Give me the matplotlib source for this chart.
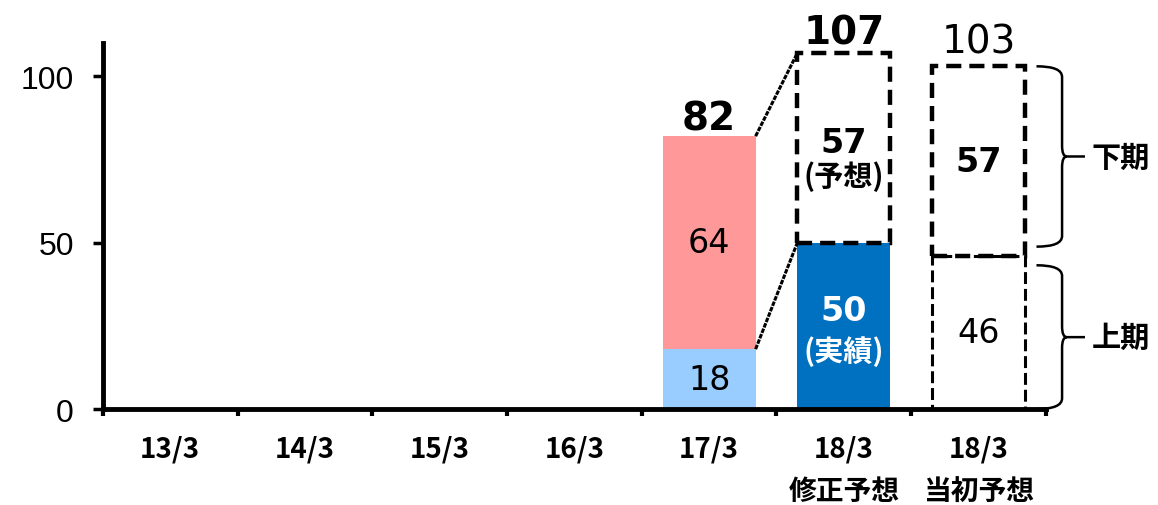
import numpy as np
import matplotlib
matplotlib.use('Agg')
import matplotlib.pyplot as plt
from matplotlib.path import Path
from matplotlib.patches import PathPatch

plt.rcParams['font.family'] = ['DejaVu Sans', 'Noto Sans CJK JP']

# data
categories = ['13/3', '14/3', '15/3', '16/3', '17/3', '18/3\n修正予想', '18/3\n当初予想']
first_half = [np.nan, np.nan, np.nan, np.nan, 18, 50, 46]    # 上期
second_half = [np.nan, np.nan, np.nan, np.nan, 64, 57, 57]   # 下期
yticks = [0, 50, 100]

first_half = np.array(first_half, dtype=float)
second_half = np.array(second_half, dtype=float)
total = first_half + second_half

x = np.arange(len(categories)) + 0.5
w = 0.69
jp = ['Noto Sans CJK JP', 'DejaVu Sans']

fig = plt.figure(figsize=(11.58, 5.06), dpi=100)
ax = fig.add_axes([0.0889, 0.1897, 0.8143, 0.7233])

# 17/3 実績
ax.bar(x[4], first_half[4], w, color='#99CCFF', zorder=2)
ax.bar(x[4], second_half[4], w, bottom=first_half[4], color='#FF9999', zorder=2)
# 18/3 修正予想
ax.bar(x[5], first_half[5], w, color='#0070C0', zorder=2)
ax.bar(x[5], second_half[5], w, bottom=first_half[5], fill=False, edgecolor='k',
       lw=3.2, ls=(0, (3.4, 1.8)), zorder=3)
# 18/3 当初予想
ax.bar(x[6], first_half[6], w, fill=False, edgecolor='k', lw=2.2, ls=(0, (3.9, 1.6)), zorder=3)
ax.bar(x[6], second_half[6], w, bottom=first_half[6], fill=False, edgecolor='k',
       lw=3.2, ls=(0, (3.4, 1.8)), zorder=3)

# 17/3 -> 修正予想 の接続線
for y_from, y_to in [(total[4], total[5]), (first_half[4], first_half[5])]:
    ax.plot([x[4] + w / 2, x[5] - w / 2], [y_from, y_to], color='k', lw=2.2,
            ls=(0, (1.5, 0.4)), zorder=4)

# 合計ラベル
ax.annotate('%d' % total[4], (x[4], total[4]), xytext=(0, 5), textcoords='offset points',
            ha='center', va='baseline', fontsize=28, fontweight='bold')
ax.annotate('%d' % total[5], (x[5], total[5]), xytext=(0, 7), textcoords='offset points',
            ha='center', va='baseline', fontsize=28, fontweight='bold')
ax.annotate('%d' % total[6], (x[6], total[6]), xytext=(0, 10), textcoords='offset points',
            ha='center', va='baseline', fontsize=28)

# 内訳ラベル
ax.text(x[4], first_half[4] / 2, '%d' % first_half[4], ha='center', va='center', fontsize=24)
ax.text(x[4], first_half[4] + second_half[4] / 2, '%d' % second_half[4], ha='center', va='center', fontsize=24)

mid = first_half[5] / 2
ax.annotate('%d' % first_half[5], (x[5], mid), xytext=(0, 11), textcoords='offset points',
            ha='center', va='center', fontsize=24, fontweight='bold', color='white')
ax.annotate('(実績)', (x[5], mid), xytext=(0, -18), textcoords='offset points',
            ha='center', va='center', fontsize=21, fontweight='bold', color='white', family=jp)
mid = first_half[5] + second_half[5] / 2
ax.annotate('%d' % second_half[5], (x[5], mid), xytext=(0, 4), textcoords='offset points',
            ha='center', va='center', fontsize=24, fontweight='bold')
ax.annotate('(予想)', (x[5], mid), xytext=(0, -20), textcoords='offset points',
            ha='center', va='center', fontsize=21, fontweight='bold', family=jp)

ax.text(x[6], first_half[6] + second_half[6] / 2, '%d' % second_half[6], ha='center', va='center',
        fontsize=24, fontweight='bold')
ax.text(x[6], first_half[6] / 2, '%d' % first_half[6], ha='center', va='center', fontsize=24)


def brace(ax, x0, xv, xt, y0, y1, r):
    ym = (y0 + y1) / 2
    dx = 0.035
    verts = [(x0, y1), (xv, y1), (xv, y1 - r), (xv, ym + r), (xv, ym), (xv + dx, ym),
             (xt, ym), (xv + dx, ym), (xv, ym), (xv, ym - r), (xv, y0 + r), (xv, y0), (x0, y0)]
    codes = [Path.MOVETO, Path.CURVE3, Path.CURVE3, Path.LINETO, Path.CURVE3, Path.CURVE3,
             Path.LINETO, Path.MOVETO, Path.CURVE3, Path.CURVE3, Path.LINETO, Path.CURVE3, Path.CURVE3]
    ax.add_patch(PathPatch(Path(verts, codes), fill=False, lw=1.8, color='k', clip_on=False))
    return ym


gap = 2.8
ym = brace(ax, 6.93, 7.12, 7.29, first_half[6] + gap, total[6], 3.2)
ax.text(7.34, ym, '下期', ha='left', va='center', fontsize=21, fontweight='bold', family=jp, clip_on=False)
ym = brace(ax, 6.93, 7.12, 7.29, 0, first_half[6] - gap, 3.2)
ax.text(7.34, ym, '上期', ha='left', va='center', fontsize=21, fontweight='bold', family=jp, clip_on=False)

# 軸
ax.set_xlim(0, len(categories))
ax.set_ylim(0, 110)
ax.set_yticks(yticks)
ax.set_yticklabels([str(v) for v in yticks], fontsize=23, family='Liberation Sans')
ax.set_xticks(np.arange(len(categories) + 1))
ax.set_xticklabels([])
ax.set_xticks(x, minor=True)
ax.set_xticklabels(categories, minor=True, fontsize=20, fontweight='bold', family=jp, linespacing=1.7)
ax.tick_params(axis='x', which='major', length=5, width=3, direction='out')
ax.tick_params(axis='x', which='minor', length=0, pad=18)
ax.tick_params(axis='y', length=7, width=2.5, direction='out', pad=14)

for s in ['top', 'right']:
    ax.spines[s].set_visible(False)
for s in ['left', 'bottom']:
    ax.spines[s].set_linewidth(3.5)
    ax.spines[s].set_zorder(5)

fig.savefig('out.png', dpi=100)
